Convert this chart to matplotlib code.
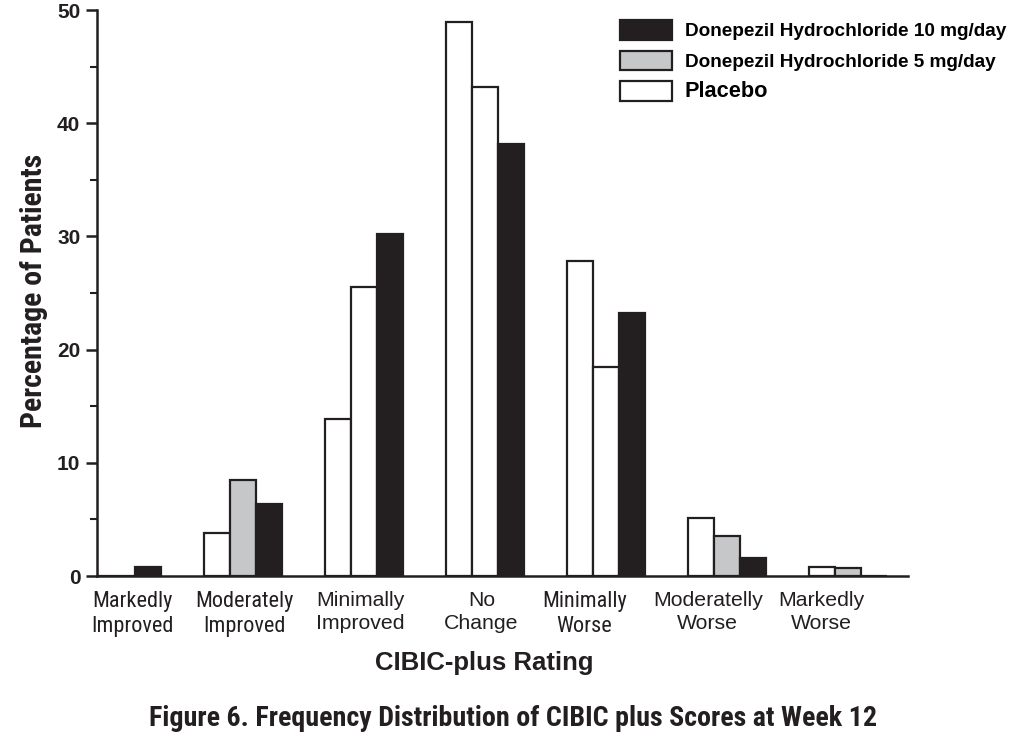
import matplotlib
matplotlib.use("Agg")
import matplotlib.pyplot as plt
from matplotlib.patches import Patch
from matplotlib import font_manager
from collections import defaultdict
import numpy as np

categories = ["Markedly\nImproved", "Moderately\nImproved", "Minimally\nImproved",
              "No\nChange", "Minimally\nWorse", "Moderatelly\nWorse", "Markedly\nWorse"]
placebo = [0.0, 3.8, 13.9, 48.9, 27.8, 5.1, 0.8]
dose5 = [0.0, 8.5, 25.5, 43.2, 18.5, 3.5, 0.7]
dose10 = [0.8, 6.4, 30.2, 38.2, 23.2, 1.6, 0.0]
yticks = [0, 10, 20, 30, 40, 50]

# ---- font selection ----
flist = font_manager.fontManager.ttflist
names = {f.name for f in flist}
arial = "Liberation Sans" if "Liberation Sans" in names else "DejaVu Sans"

def wnum(w):
    if isinstance(w, (int, float)):
        return int(w)
    return font_manager.weight_dict.get(str(w), 400)

fams = defaultdict(set)
for f in flist:
    if ("Narrow" in f.name or "Condensed" in f.name) and "Mono" not in f.name and f.style == "normal":
        fams[f.name].add(wnum(f.weight))
preferred = ["Roboto Condensed", "Liberation Sans Narrow", "Arial Narrow", "Nimbus Sans Narrow",
             "Noto Sans Condensed", "Open Sans Condensed", "PT Sans Narrow", "Archivo Narrow",
             "Ubuntu Condensed", "DejaVu Sans Condensed"]
order = [n for n in preferred if n in fams] + sorted(n for n in fams if n not in preferred)
reg_narrow = None
bold_narrow = None
for name in order:
    ws = fams[name]
    if reg_narrow is None and any(380 <= v <= 450 for v in ws):
        reg_narrow = name
    if bold_narrow is None and any(v >= 650 for v in ws):
        bold_narrow = name
if reg_narrow is None:
    reg_narrow = order[0] if order else arial
if bold_narrow is None:
    bold_narrow = arial

BLACK = "#231f20"
GRAY = "#c6c7c9"
# the original prints the middle bar white in three groups
mid_fill = [GRAY, GRAY, "white", "white", "white", GRAY, GRAY]

fig = plt.figure(figsize=(10.12, 7.36), dpi=100)
ax = fig.add_axes([97/1012, 160/736, (908-97)/1012, 566/736])

x = np.arange(len(categories))
w = 0.215
ax.bar(x - w, placebo, w, color="white", edgecolor=BLACK, linewidth=1.6, zorder=3)
ax.bar(x, dose5, w, color=mid_fill, edgecolor=BLACK, linewidth=1.6, zorder=3)
ax.bar(x + w, dose10, w, color=BLACK, edgecolor=BLACK, linewidth=1.6, zorder=3)

ax.set_xlim(-0.207, 6.496)
ax.set_ylim(0, 50)
for s in ["top", "right"]:
    ax.spines[s].set_visible(False)
for s in ["left", "bottom"]:
    ax.spines[s].set_linewidth(1.8)
    ax.spines[s].set_color(BLACK)

ax.set_yticks(yticks)
ax.set_yticklabels([str(v) for v in yticks], fontsize=15, fontweight="bold", family=arial, color=BLACK)
ax.set_yticks(np.arange(5, 50, 10), minor=True)
ax.tick_params(axis="y", which="major", length=8, width=1.8, direction="out", pad=4, colors=BLACK)
ax.tick_params(axis="y", which="minor", length=5, width=1.5, direction="out", colors=BLACK)
ax.tick_params(axis="x", length=0, pad=11)

# label anchor positions (layout only): slightly offset from group centres as in original
label_pos = x + np.array([0.09, 0.01, -0.03, -0.03, -0.18, -0.16, -0.22])
ax.set_xticks(label_pos)
ax.set_xticklabels(categories, linespacing=1.25, color=BLACK)
lab_narrow = [True, True, False, False, True, False, False]
for t, nar in zip(ax.get_xticklabels(), lab_narrow):
    if nar:
        t.set_family(reg_narrow)
        t.set_fontsize(16)
    else:
        t.set_family(arial)
        t.set_fontsize(15.3)

ylab = ax.set_ylabel("Percentage of Patients", fontsize=20, fontweight="bold",
                     family=bold_narrow, color=BLACK)
ax.yaxis.set_label_coords((34 - 97) / 811, (576 - 291) / 566)
ylab.set_va("center")
xlab = ax.set_xlabel("CIBIC-plus Rating", fontsize=16.5, fontweight="bold", family=arial, color=BLACK)
ax.xaxis.set_label_coords((484 - 97) / 811, (576 - 663) / 566)
xlab.set_va("center")

handles = [Patch(facecolor=BLACK, edgecolor=BLACK, linewidth=1.6),
           Patch(facecolor=GRAY, edgecolor=BLACK, linewidth=1.6),
           Patch(facecolor="white", edgecolor=BLACK, linewidth=1.6)]
labels = ["Donepezil Hydrochloride 10 mg/day", "Donepezil Hydrochloride 5 mg/day", "Placebo"]
leg = fig.legend(handles, labels, loc="upper left", bbox_to_anchor=(620/1012, 1 - 20/736),
                 bbox_transform=fig.transFigure, borderpad=0, borderaxespad=0,
                 frameon=False, handlelength=2.8, handleheight=1.25, labelspacing=0.58,
                 handletextpad=0.7, prop={"family": arial, "weight": "bold", "size": 13.3})
leg.get_texts()[2].set_fontsize(15)

title = fig.text(513/1012, 1 - 718/736, "Figure 6. Frequency Distribution of CIBIC plus Scores at Week 12",
                 ha="center", va="center", fontsize=17, fontweight="semibold",
                 family=bold_narrow, color=BLACK)

# ---- fit text widths to the original ----
fig.canvas.draw()
r = fig.canvas.get_renderer()
def fit(t, target, horizontal=True):
    bb = t.get_window_extent(r)
    cur = bb.width if horizontal else bb.height
    if cur > 0:
        t.set_fontsize(t.get_fontsize() * target / cur)
fit(title, 730)
fit(ylab, 273, horizontal=False)
fit(xlab, 218)
fit(leg.get_texts()[0], 323)
fit(leg.get_texts()[1], 312)
fit(leg.get_texts()[2], 84)

fig.savefig("out.png", dpi=100)
